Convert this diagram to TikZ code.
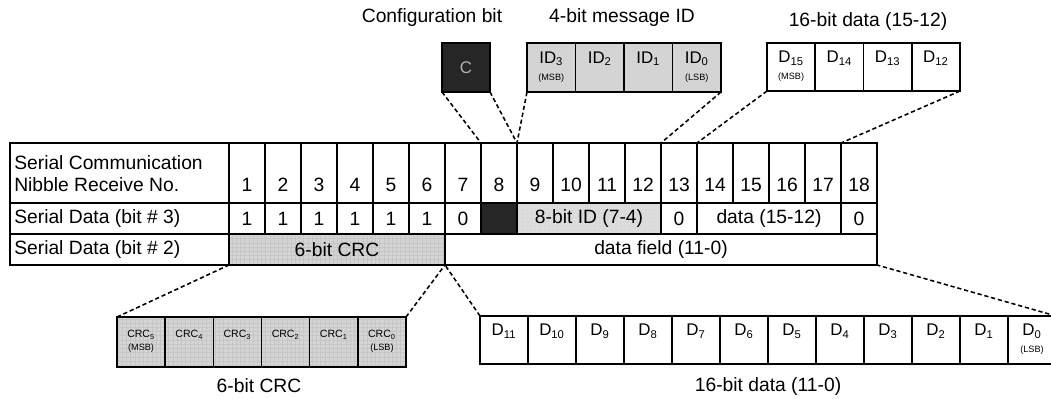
\documentclass[tikz,border=0pt]{standalone}
\usepackage{fontspec}
\setmainfont{Liberation Sans}
\usepackage{tikz}
\usetikzlibrary{positioning,patterns}
\definecolor{shadec}{HTML}{D4D4D4}
\definecolor{darkc}{HTML}{262626}
\tikzset{
  bitcell/.style={draw,line width=1.1pt,inner sep=0pt,outer sep=0pt,align=center,
    font=\fontsize{12}{12}\selectfont},
  crccell/.style={bitcell,preaction={fill=shadec},pattern=grid,pattern color=gray!45,
    font=\fontsize{7.5}{9}\selectfont},
  tabline/.style={line width=1.2pt},
  tabtext/.style={inner sep=0pt,font=\fontsize{13.7}{15.6}\selectfont},
  title/.style={inner sep=0pt,font=\fontsize{13.7}{15.6}\selectfont},
  guide/.style={line width=1.1pt,dash pattern=on 3pt off 2pt},
}
\newcommand{\bitlab}[2]{#1\\[0pt]{\fontsize{6.5}{7}\selectfont#2\strut}}

\begin{document}
\begin{tikzpicture}[x=0.025cm,y=-0.025cm]
  \useasboundingbox (0,0) rectangle (1051,399);
  % titles above
  \node[title] (cfgtitle) at (432,18) {Configuration bit};
  \node[title] (idtitle) at (622,18) {4-bit message ID};
  \node[title] (hititle) at (868,22) {16-bit data (15-12)};
  % config bit, message ID, data (15-12)
  \node[bitcell,fill=darkc,text=gray!60,minimum width=1.2cm,minimum height=1.225cm] (cfg) at (466,67.5) {C};
  \foreach \lab [count=\i] in {\bitlab{ID\textsubscript{3}}{(MSB)},\bitlab{ID\textsubscript{2}}{},
      \bitlab{ID\textsubscript{1}}{},\bitlab{ID\textsubscript{0}}{(LSB)}}
    \node[bitcell,fill=shadec,minimum width=1.2125cm,minimum height=1.225cm] (idc\i) at ({527+48.5*(\i-0.5)},67.5) {\lab};
  \foreach \lab [count=\i] in {\bitlab{D\textsubscript{15}}{(MSB)},\bitlab{D\textsubscript{14}}{},
      \bitlab{D\textsubscript{13}}{},\bitlab{D\textsubscript{12}}{}}
    \node[bitcell,minimum width=1.206cm,minimum height=1.2cm] (hic\i) at ({767+48.25*(\i-0.5)},67) {\lab};

  % the table
  \fill[darkc] (481,203) rectangle (517,234);
  \fill[shadec!80] (517,203) rectangle (661,234);
  \fill[pattern=grid,pattern color=gray!30] (517,203) rectangle (661,234);
  \fill[shadec] (229,234) rectangle (445,265);
  \fill[pattern=grid,pattern color=gray!45] (229,234) rectangle (445,265);
  \draw[tabline] (10,143) rectangle (877,265);
  \draw[tabline] (10,203) -- (877,203) (10,234) -- (877,234) (229,143) -- (229,265);
  \foreach \k in {2,...,18}
    \draw[tabline] ({229+36*(\k-1)},143) -- ++(0,60);
  \foreach \k in {2,...,9,13,14,18}
    \draw[tabline] ({229+36*(\k-1)},203) -- ++(0,31);
  \draw[tabline] (445,234) -- (445,265);
  \foreach \k in {1,...,19} {
    \coordinate (top\k) at ({229+36*(\k-1)},143);
    \coordinate (bot\k) at ({229+36*(\k-1)},265);
  }

  \node[tabtext,align=left,anchor=west] (hdr) at (14,174) {Serial Communication\\Nibble Receive No.};
  \node[tabtext,anchor=west] (bit3) at (14,218.5) {Serial Data (bit \# 3)};
  \node[tabtext,anchor=west] (bit2) at (14,249.5) {Serial Data (bit \# 2)};
  \foreach \k in {1,...,18}
    \node[tabtext] (num\k) at ({229+36*(\k-0.5)},185) {\k};
  \foreach \k in {1,...,6}
    \node[tabtext] (one\k) at ({229+36*(\k-0.5)},218.5) {1};
  \foreach \k in {7,13,18}
    \node[tabtext] (zero\k) at ({229+36*(\k-0.5)},218.5) {0};
  \node[tabtext] (idspan) at (589,218.5) {8-bit ID (7-4)};
  \node[tabtext] (hispan) at (769,218.5) {data (15-12)};
  \node[tabtext] (crcspan) at (337,249.5) {6-bit CRC};
  \node[tabtext] (fieldspan) at (661,249.5) {data field (11-0)};

  % CRC and data (11-0) below
  \foreach \lab [count=\i] in {\bitlab{CRC\textsubscript{5}}{(MSB)},\bitlab{CRC\textsubscript{4}}{},
      \bitlab{CRC\textsubscript{3}}{},\bitlab{CRC\textsubscript{2}}{},
      \bitlab{CRC\textsubscript{1}}{},\bitlab{CRC\textsubscript{0}}{(LSB)}}
    \node[crccell,minimum width=1.204cm,minimum height=1.25cm] (crc\i) at ({117+48.17*(\i-0.5)},342) {\lab};
  \foreach \n [count=\i] in {11,10,...,1}
    \node[bitcell,minimum width=1.2cm,minimum height=1.2cm] (dlo\i) at ({480+48*(\i-0.5)},340) {\bitlab{D\textsubscript{\n}}{}};
  \node[bitcell,minimum width=1.2cm,minimum height=1.2cm] (dlo12) at ({480+48*11.5},340) {\bitlab{D\textsubscript{0}}{(LSB)}};
  \node[title] (crctitle) at (259,386) {6-bit CRC};
  \node[title] (lotitle) at (768,387) {16-bit data (11-0)};

  % dashed guides
  \draw[guide] (cfg.south west) -- (top8);
  \draw[guide] (cfg.south east) -- (top9);
  \draw[guide] (idc1.south west) -- (top9);
  \draw[guide] (idc4.south east) -- (top13);
  \draw[guide] (hic1.south west) -- (top14);
  \draw[guide] (hic4.south east) -- (top18);
  \draw[guide] (crc1.north west) -- (bot1);
  \draw[guide] (crc6.north east) -- (bot7);
  \draw[guide] (dlo1.north west) -- (bot7);
  \draw[guide] (dlo12.north east) -- (bot19);
\end{tikzpicture}
\end{document}
